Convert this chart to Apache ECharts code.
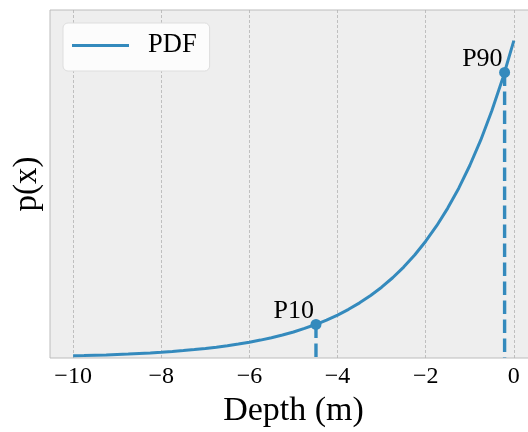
<!DOCTYPE html>
<html>
<head>
<meta charset="utf-8">
<script src="https://cdn.jsdelivr.net/npm/echarts@6/dist/echarts.min.js"></script>
<style>
  html, body { margin: 0; padding: 0; background: #ffffff; }
  #chart { width: 528px; height: 432px; }
</style>
</head>
<body>
<div id="chart"></div>
<script>
// Depth samples (m) and probability density along the curve
const depth = [-10, -9.75, -9.5, -9.25, -9, -8.75, -8.5, -8.25, -8, -7.75, -7.5, -7.25, -7, -6.75, -6.5, -6.25, -6, -5.75, -5.5, -5.25, -5,
  -4.75, -4.5, -4.25, -4, -3.75, -3.5, -3.25, -3, -2.75, -2.5, -2.25, -2, -1.75, -1.5, -1.25, -1, -0.75, -0.5, -0.25, 0];
const density = [0.0034, 0.0038, 0.0044, 0.0049, 0.0056, 0.0063, 0.0072, 0.0081, 0.0092, 0.0104, 0.0118, 0.0134, 0.0152, 0.0172, 0.0195, 0.0221, 0.0251, 0.0284, 0.0322, 0.0365, 0.0413,
  0.0469, 0.0531, 0.0602, 0.0681, 0.0772, 0.0875, 0.0991, 0.1123, 0.1273, 0.1442, 0.1634, 0.1852, 0.2098, 0.2378, 0.2694, 0.3053, 0.3459, 0.3921, 0.4442, 0.5034];

// Percentile markers
const pctNames = ['P10', 'P90'];
const pctDepth = [-4.49, -0.21];
const pctDensity = [0.0533, 0.4530];

// Axis ticks
const xTicks = [-10, -8, -6, -4, -2, 0];

const FONT = 'Liberation Serif';
const BLUE = '#348ABD';

const curve = depth.map((d, i) => [d, density[i]]);

const series = [{
  name: 'PDF',
  type: 'line',
  data: curve,
  smooth: false,
  symbol: 'none',
  lineStyle: { color: BLUE, width: 3 },
  itemStyle: { color: BLUE },
  z: 3
}];

pctNames.forEach((name, i) => {
  // dashed drop line from the marker to the axis
  series.push({
    name: name + '-drop',
    type: 'line',
    data: [[pctDepth[i], pctDensity[i]], [pctDepth[i], 0]],
    symbol: 'none',
    lineStyle: { color: BLUE, width: 3.4, type: [13.5, 5.5] },
    silent: true,
    z: 2
  });
  // marker with its label
  series.push({
    name: name,
    type: 'scatter',
    data: [[pctDepth[i], pctDensity[i]]],
    symbol: 'circle',
    symbolSize: 11,
    itemStyle: { color: BLUE, opacity: 1 },
    label: {
      show: true,
      formatter: name,
      position: [3.5, 5.5],
      align: 'right',
      verticalAlign: 'bottom',
      fontFamily: FONT,
      fontSize: 26,
      color: '#000000'
    },
    z: 4
  });
});

const chart = echarts.init(document.getElementById('chart'), null, { renderer: 'canvas' });
chart.setOption({
  animation: false,
  backgroundColor: '#ffffff',
  grid: {
    left: 50, top: 10, width: 487, height: 348,
    outerBoundsMode: 'none',
    containLabel: false,
    show: true,
    backgroundColor: '#eeeeee',
    borderColor: '#bcbcbc',
    borderWidth: 1
  },
  legend: {
    data: [{ name: 'PDF', icon: 'rect' }],
    left: 63, top: 23,
    orient: 'vertical',
    itemWidth: 57,
    itemHeight: 3,
    padding: [9, 13, 12, 9],
    backgroundColor: 'rgba(252,252,252,1)',
    borderColor: '#dedede',
    borderWidth: 1,
    borderRadius: 5,
    itemStyle: { color: BLUE },
    textStyle: { fontFamily: FONT, fontSize: 26.5, color: '#000000', padding: [0, 0, 0, 14] }
  },
  xAxis: {
    type: 'value',
    min: -10.525,
    max: 0.525,
    name: 'Depth (m)',
    nameLocation: 'middle',
    nameGap: 31,
    nameTextStyle: { fontFamily: FONT, fontSize: 34, color: '#000000' },
    axisLine: { show: false },
    axisTick: { show: false, customValues: xTicks },
    axisLabel: {
      customValues: xTicks,
      fontFamily: FONT, fontSize: 24, color: '#000000', margin: 7,
      formatter: v => (v < 0 ? '\u2212' + Math.abs(v) : String(v))
    },
    splitLine: { show: true, lineStyle: { color: '#b2b2b2', width: 0.8, type: [3, 2] } }
  },
  yAxis: {
    type: 'value',
    min: 0,
    max: 0.552,
    name: 'p(x)',
    nameLocation: 'middle',
    nameGap: 6,
    nameRotate: 90,
    nameTextStyle: { fontFamily: FONT, fontSize: 33, color: '#000000' },
    axisLine: { show: false },
    axisTick: { show: false },
    axisLabel: { show: false },
    splitLine: { show: false }
  },
  series: series
});
</script>
</body>
</html>
